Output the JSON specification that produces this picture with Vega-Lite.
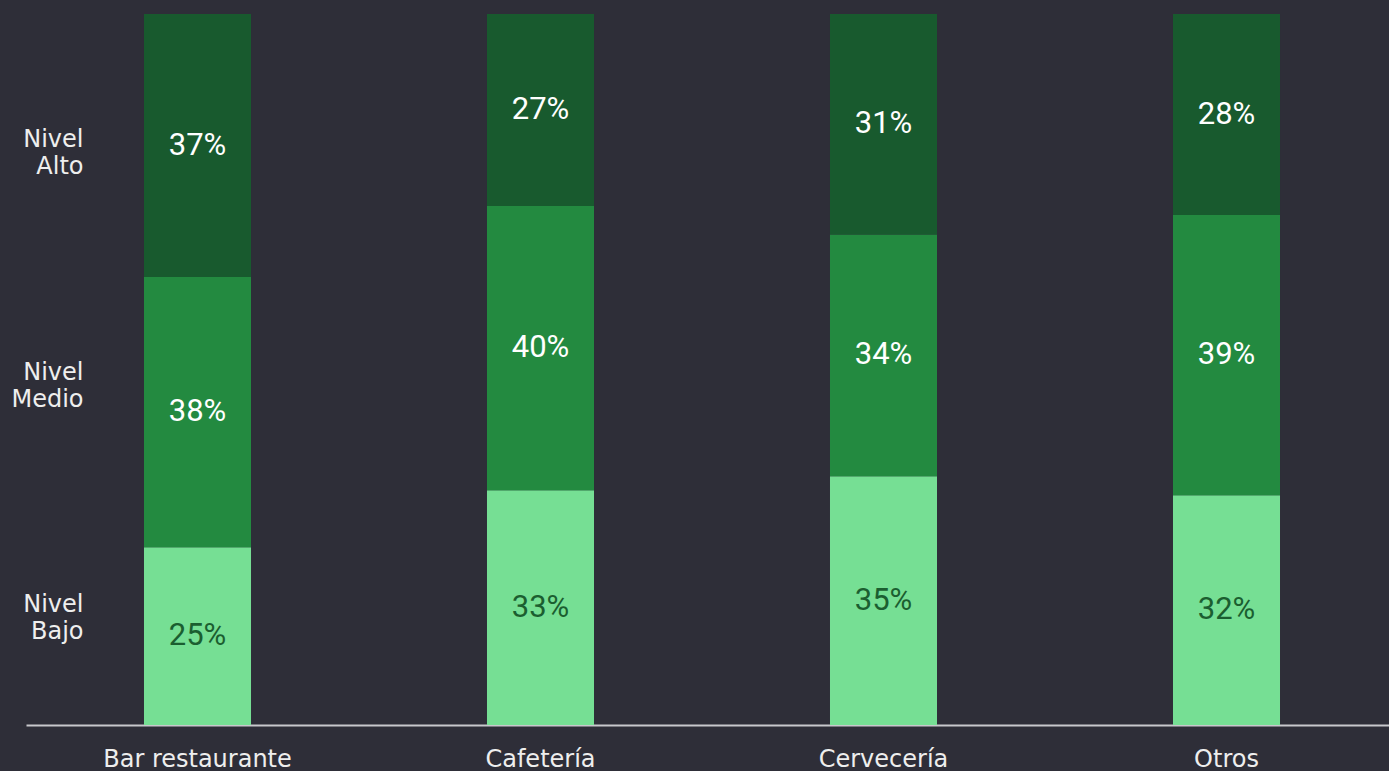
{
  "$schema": "https://vega.github.io/schema/vega-lite/v6.json",
  "width": 1363,
  "height": 711,
  "autosize": "none",
  "padding": {"left": 26, "top": 14, "right": 0, "bottom": 46},
  "background": "#2e2e38",
  "config": {"view": {"stroke": null}, "font": "DejaVu Sans"},
  "data": {
    "values": [
      {"cat": "Bar restaurante", "level": "Bajo", "ord": 1, "pct": 25},
      {"cat": "Bar restaurante", "level": "Medio", "ord": 2, "pct": 38},
      {"cat": "Bar restaurante", "level": "Alto", "ord": 3, "pct": 37},
      {"cat": "Cafetería", "level": "Bajo", "ord": 1, "pct": 33},
      {"cat": "Cafetería", "level": "Medio", "ord": 2, "pct": 40},
      {"cat": "Cafetería", "level": "Alto", "ord": 3, "pct": 27},
      {"cat": "Cervecería", "level": "Bajo", "ord": 1, "pct": 35},
      {"cat": "Cervecería", "level": "Medio", "ord": 2, "pct": 34},
      {"cat": "Cervecería", "level": "Alto", "ord": 3, "pct": 31},
      {"cat": "Otros", "level": "Bajo", "ord": 1, "pct": 32},
      {"cat": "Otros", "level": "Medio", "ord": 2, "pct": 39},
      {"cat": "Otros", "level": "Alto", "ord": 3, "pct": 28}
    ]
  },
  "transform": [
    {"stack": "pct", "groupby": ["cat"], "sort": [{"field": "ord", "order": "ascending"}], "offset": "normalize", "as": ["y0", "y1"]},
    {"calculate": "(datum.y0 + datum.y1) / 2", "as": "mid"},
    {"calculate": "datum.pct + '%'", "as": "lab"}
  ],
  "encoding": {
    "x": {
      "field": "cat",
      "type": "nominal",
      "sort": ["Bar restaurante", "Cafetería", "Cervecería", "Otros"],
      "scale": {"range": [0, 1372], "paddingInner": 0.688, "paddingOuter": 0.344},
      "axis": {
        "title": null,
        "labelAngle": 0,
        "ticks": false,
        "tickSize": 0,
        "domainColor": "#c8c8cc",
        "domainWidth": 2,
        "labelColor": "#eeeeee",
        "labelFontSize": 24,
        "labelPadding": 22,
        "labelLimit": 0,
        "labelFont": "DejaVu Sans"
      }
    }
  },
  "layer": [
    {
      "mark": {"type": "bar"},
      "encoding": {
        "y": {
          "field": "y1",
          "type": "quantitative",
          "scale": {"domain": [0, 1], "nice": false},
          "axis": {
            "title": null,
            "domain": false,
            "ticks": false,
            "grid": false,
            "values": [0.17, 0.496, 0.824],
            "labelExpr": "datum.value > 0.7 ? ['Nivel', 'Alto'] : datum.value > 0.3 ? ['Nivel', 'Medio'] : ['Nivel', 'Bajo']",
            "labelAlign": "right",
            "labelBaseline": "middle",
            "labelPadding": -57,
            "labelFontSize": 24,
            "labelLineHeight": 27.5,
            "labelColor": "#eeeeee",
            "labelOverlap": false,
            "labelFont": "DejaVu Sans"
          }
        },
        "y2": {"field": "y0"},
        "color": {
          "field": "level",
          "type": "nominal",
          "scale": {"domain": ["Alto", "Medio", "Bajo"], "range": ["#185a2e", "#238a40", "#76df94"]},
          "legend": null
        }
      }
    },
    {
      "mark": {"type": "text", "fontSize": 31, "baseline": "middle", "align": "center", "font": "Roboto"},
      "encoding": {
        "y": {"field": "mid", "type": "quantitative"},
        "text": {"field": "lab", "type": "nominal"},
        "color": {
          "condition": {"test": "datum.level === 'Bajo'", "value": "#1b5e30"},
          "value": "#ffffff"
        }
      }
    }
  ]
}
